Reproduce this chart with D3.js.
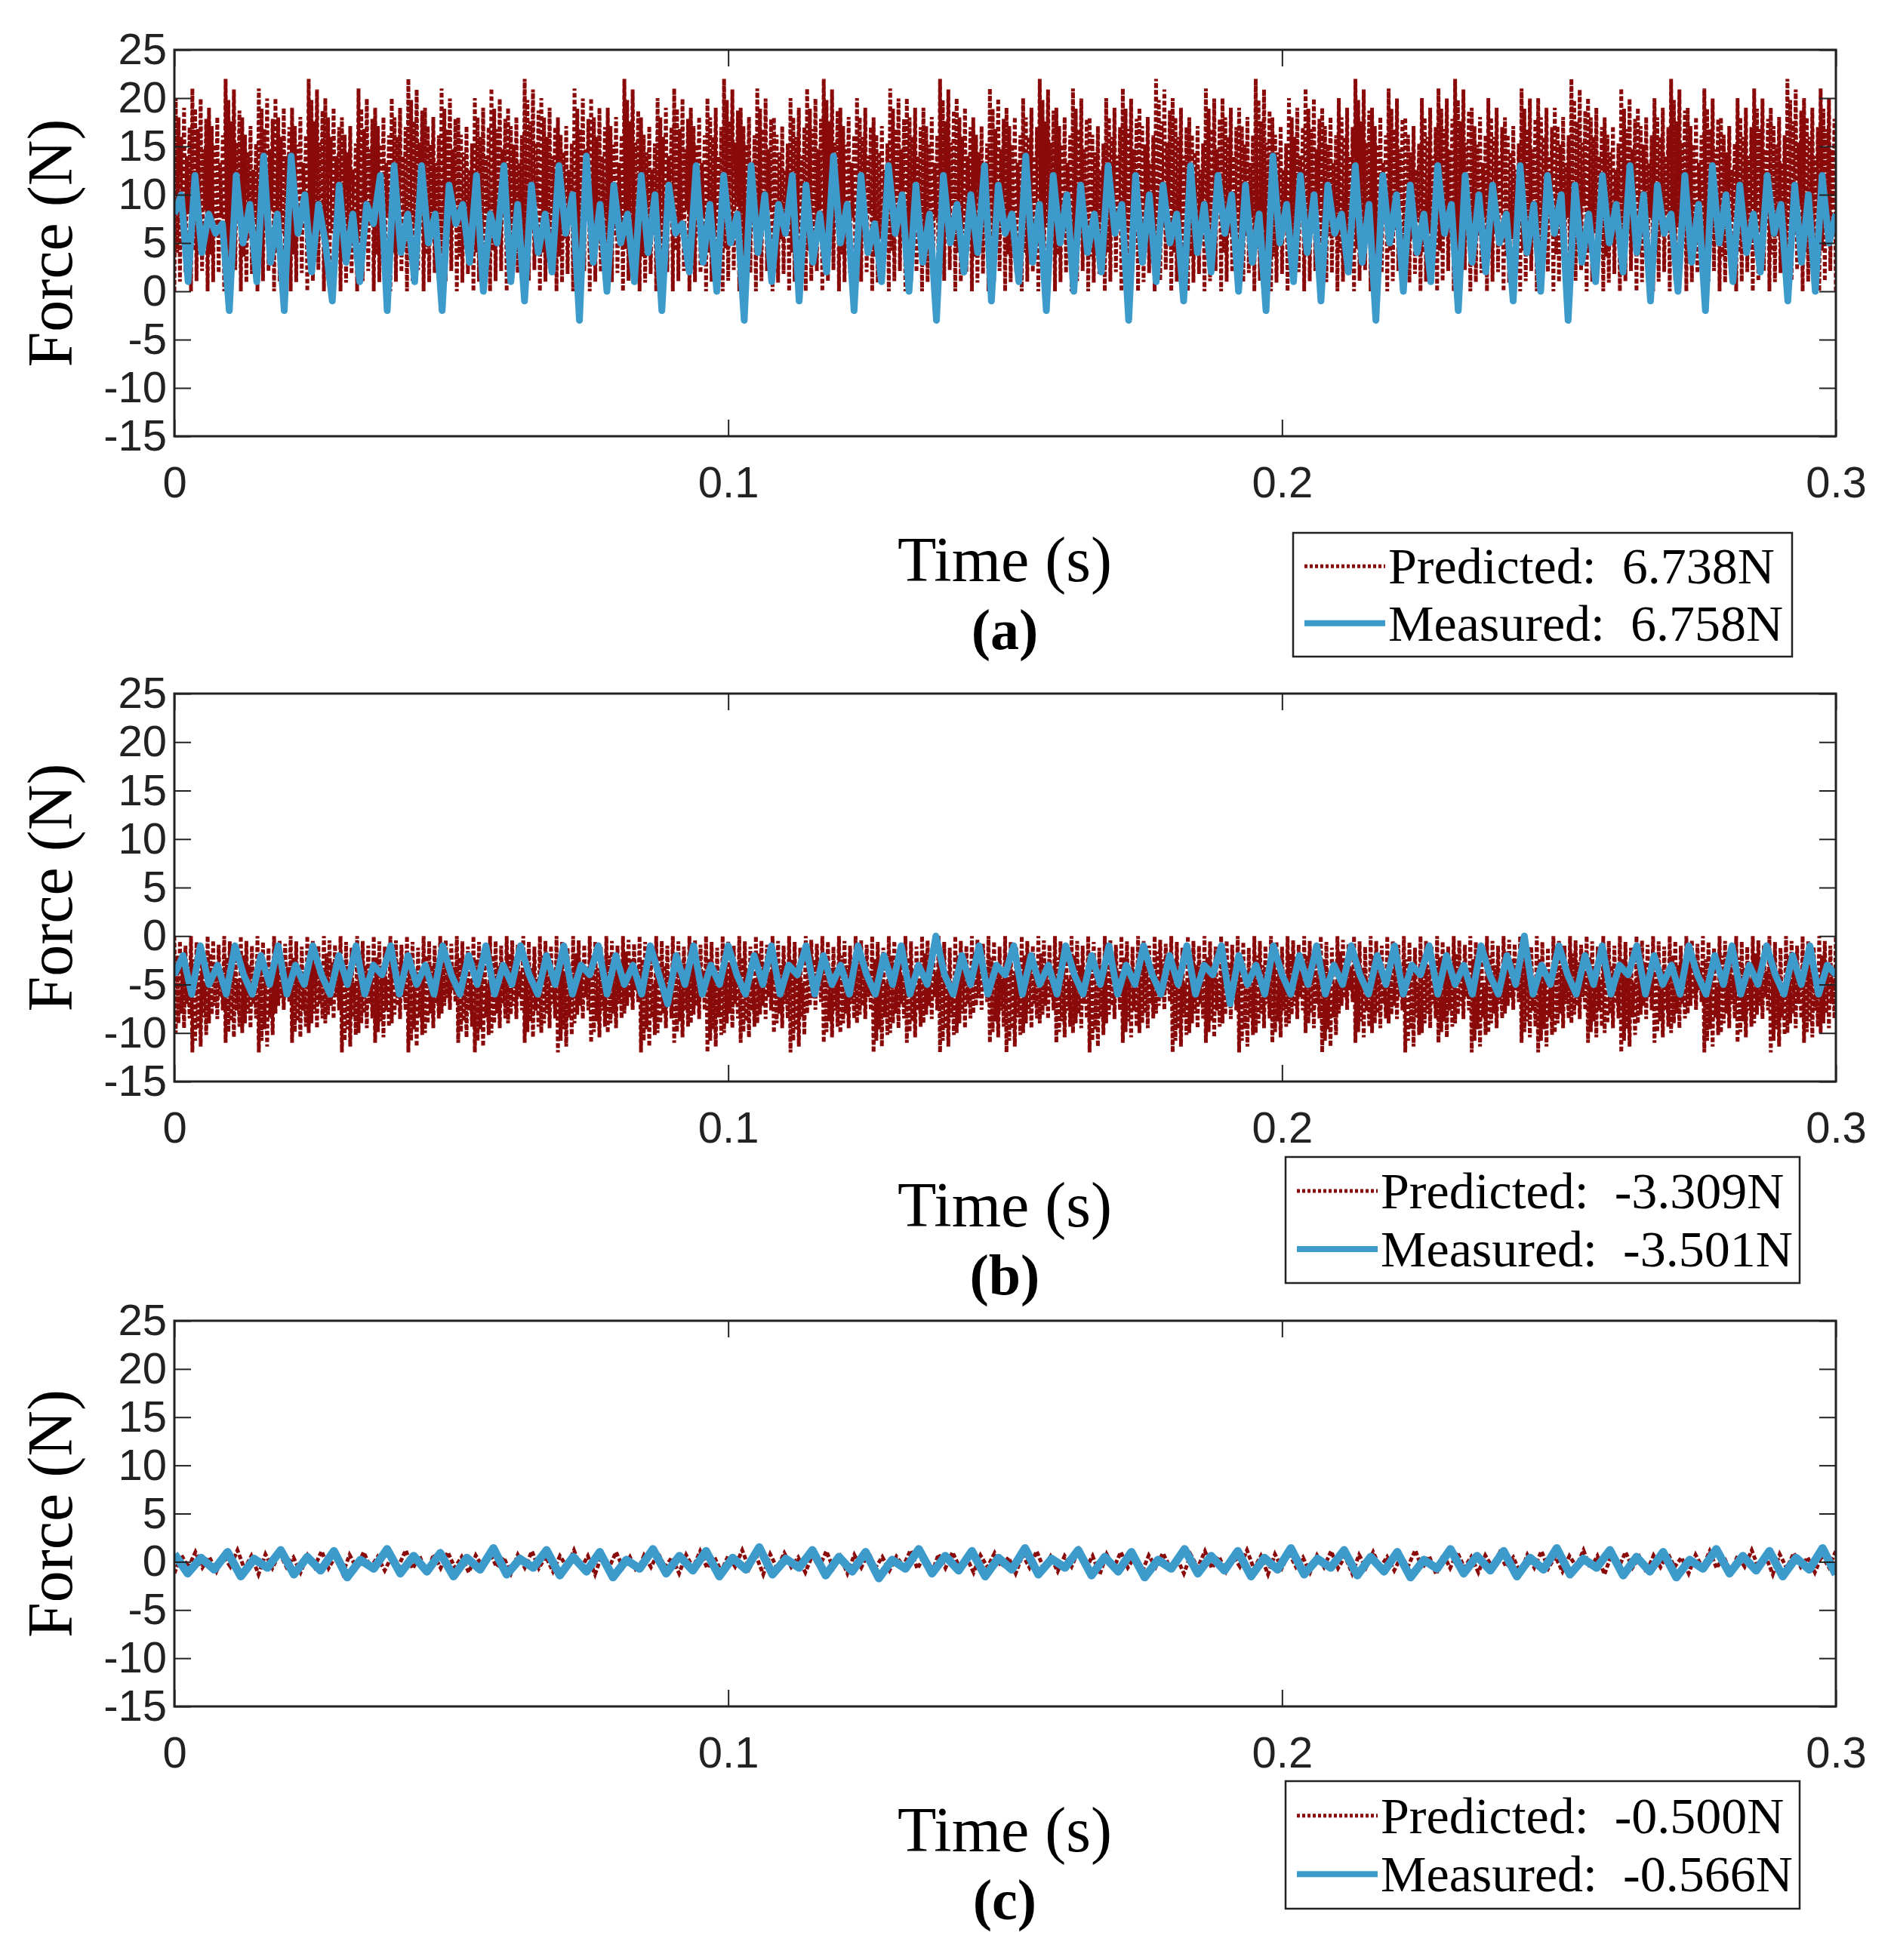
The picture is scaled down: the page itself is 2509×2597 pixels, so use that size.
<!DOCTYPE html>
<html><head><meta charset="utf-8">
<script src="https://cdn.jsdelivr.net/npm/d3@7"></script>
<style>body{margin:0;background:#fff}</style></head>
<body><svg id="c" width="2509" height="2597"></svg>
<script>
const xTicks=[0,0.1,0.2,0.3];
const yTicks=[-15,-10,-5,0,5,10,15,20,25];
const labelsA=["Predicted:  6.738N","Measured:  6.758N"];
const labelsB=["Predicted:  -3.309N","Measured:  -3.501N"];
const labelsC=["Predicted:  -0.500N","Measured:  -0.566N"];
const predPeaksA=[20,21,19,22,18,21,20,19,22,20,18,21,19,20,22,19,21,18,20,21,19,22,20,18,21,20,19,22,18,20,21,19,20,22,19,21,18,20,21,22,19,20,18,21,20,19,22,20,18,21,19,20,22,19,21,18,20,21,19,22,20,18,21,20,19,22,18,20,21,19,20,22,19,21,18,20,21,22,19,20,18,21,20,19,22,20,18,21,19,20,22,19,21,18,20,21,19,22,20,21];
const measA=[8,10,1,12,4,8,6,7,-2,12,5,9,1,14,3,8,-2,14,6,10,2,9,5,-1,11,3,8,1,9,7,12,-2,13,4,8,1,13,5,8,-2,11,7,9,3,12,0,8,5,13,1,9,-1,11,4,8,2,13,6,10,-3,14,3,9,0,11,5,8,1,12,4,10,-2,11,6,7,2,13,3,9,0,12,5,8,-3,13,4,10,1,9,6,12,-1,11,3,8,2,14,5,9,-2,12,4,7,1,13,6,10,0,11,3,8,-3,12,5,9,2,10,4,13,-1,11,6,8,1,14,3,9,-2,12,5,10,0,11,4,8,2,13,6,9,-3,12,3,10,1,11,5,8,-1,13,4,9,2,12,6,10,0,11,3,8,-2,14,5,9,1,12,4,10,-1,11,6,8,2,13,3,9,-3,12,5,10,0,11,4,8,1,13,6,9,-2,12,3,10,2,11,5,8,-1,13,4,9,0,12,6,10,-3,11,3,8,1,12,5,9,2,13,4,10,-1,11,6,8,0,12,3,9,-2,13,5,10,1,11,4,8,2,12,6,9,-1,11,3,10,0,12,5,8];
const predPeaksB=[-10,-12,-9,-11,-10,-12,-8,-11,-10,-9,-12,-10,-11,-9,-12,-10,-8,-11,-12,-10,-9,-11,-10,-12,-9,-11,-10,-8,-12,-10,-11,-9,-12,-10,-11,-9,-10,-12,-8,-11,-10,-9,-12,-10,-11,-9,-12,-10,-8,-11,-12,-10,-9,-11,-10,-12,-9,-11,-10,-8,-12,-10,-11,-9,-12,-10,-11,-9,-10,-12,-8,-11,-10,-9,-12,-10,-11,-9,-12,-10,-8,-11,-12,-10,-9,-11,-10,-12,-9,-11,-10,-8,-12,-10,-11,-9,-12,-10,-11,-10];
const measB=[-4,-2,-6,-1,-5,-3,-6,-1,-4,-6,-2,-5,-1,-6,-3,-5,-1,-4,-6,-2,-5,-1,-6,-3,-4,-1,-6,-2,-5,-3,-6,-1,-4,-6,-2,-5,-1,-6,-3,-5,-1,-4,-6,-2,-5,-1,-6,-3,-4,-1,-6,-2,-5,-3,-6,-1,-4,-7,-2,-5,-1,-6,-3,-5,-1,-4,-6,-2,-5,-1,-6,-3,-4,-1,-6,-2,-5,-3,-6,-1,-4,-6,-2,-5,-1,-6,-3,-5,0,-4,-6,-2,-5,-1,-6,-3,-4,-1,-6,-2,-5,-3,-6,-1,-4,-6,-2,-5,-1,-6,-3,-5,-1,-4,-6,-2,-5,-1,-6,-3,-4,-1,-7,-2,-5,-3,-6,-1,-4,-6,-2,-5,-1,-6,-3,-5,-1,-4,-6,-2,-5,-1,-6,-3,-4,-1,-6,-2,-5,-3,-6,-1,-4,-6,-2,-5,0,-6,-3,-5,-1,-4,-6,-2,-5,-1,-6,-3,-4,-1,-6,-2,-5,-3,-6,-1,-4,-6,-2,-5,-1,-6,-3,-5,-1,-4,-6,-2,-5,-1,-6,-3,-4];
const predPeaksC=[-1.2,1.0,-1.0,1.2,-1.3,0.9,-1.1,1.1,-1.2,1.0,-0.9,1.2,-1.3,1.0,-1.1,0.9,-1.2,1.1,-1.0,1.2,-1.3,1.0,-1.1,0.9,-1.2,1.1,-1.0,1.2,-1.3,0.9,-1.1,1.1,-1.2,1.0,-0.9,1.2,-1.3,1.0,-1.1,0.9,-1.2,1.1,-1.0,1.2,-1.3,1.0,-1.1,0.9,-1.2,1.1,-1.0,1.2,-1.3,0.9,-1.1,1.1,-1.2,1.0,-0.9,1.2,-1.3,1.0,-1.1,0.9,-1.2,1.1,-1.0,1.2,-1.3,1.0,-1.1,0.9,-1.2,1.1,-1.0,1.2,-1.3,0.9,-1.1,1.1];
const measC=[0.8,-1.2,0.4,-0.8,1.0,-1.5,0.3,-0.6,1.2,-1.3,0.5,-0.9,1.1,-1.6,0.2,-0.7,1.3,-1.2,0.6,-1.0,0.9,-1.5,0.4,-0.8,1.4,-1.3,0.3,-0.6,1.2,-1.4,0.5,-1.0,1.0,-1.6,0.2,-0.7,1.3,-1.2,0.6,-0.9,1.1,-1.5,0.4,-0.8,1.5,-1.3,0.3,-0.6,1.2,-1.4,0.5,-1.0,1.0,-1.7,0.2,-0.7,1.3,-1.2,0.6,-0.9,1.1,-1.5,0.4,-0.8,1.4,-1.3,0.3,-0.6,1.2,-1.4,0.5,-1.0,1.0,-1.6,0.2,-0.7,1.3,-1.2,0.6,-0.9,1.1,-1.5,0.4,-0.8,1.4,-1.3,0.3,-0.6,1.2,-1.4,0.5,-1.0,1.0,-1.6,0.2,-0.7,1.3,-1.2,0.6,-0.9,1.1,-1.5,0.4,-0.8,1.4,-1.3,0.3,-0.6,1.2,-1.4,0.5,-1.0,1.0,-1.6,0.2,-0.7,1.3,-1.2,0.6,-0.9,1.1,-1.5,0.4,-0.8,1.4,-1.3];

function zig(peaks, base){
  const pts=[]; const n=peaks.length;
  const shape=[0,1,0.2,0.9,0.05,0.8,0.3,0.95,0.1,0.7,0.4,0.85];
  peaks.forEach((p,i)=>{shape.forEach((s,j)=>{pts.push([ (i+j/shape.length)/n*0.3, base+(p-base)*s ]);});});
  pts.push([0.3,base]);
  return pts;
}
function zigC(peaks){
  const n=peaks.length; const pts=[];
  peaks.forEach((p,i)=>{pts.push([i/(n-1)*0.3,p]);pts.push([(i+0.33)/(n-1)*0.3,-p*0.6]);pts.push([(i+0.66)/(n-1)*0.3,p*0.5]);});
  return pts.filter(d=>d[0]<=0.3);
}
function even(arr){return arr.map((v,i)=>[i/(arr.length-1)*0.3,v]);}

const svg=d3.select("#c");
const RED="#8a0a0a", BLUE="#3d9bcc";
const panels=[
 {top:66,bot:578,pred:zig(predPeaksA,0),meas:even(measA),labels:labelsA,tag:"(a)",lg:[1713,706,2374,870],mw:9},
 {top:919,bot:1433,pred:zig(predPeaksB,0),meas:even(measB),labels:labelsB,tag:"(b)",lg:[1703,1533,2384,1700],mw:9},
 {top:1750,bot:2261,pred:zigC(predPeaksC),meas:even(measC),labels:labelsC,tag:"(c)",lg:[1703,2360,2384,2529],mw:11}
];
const L=231,R=2432;
const fmt=d=>String(d);
panels.forEach(p=>{
  const x=d3.scaleLinear().domain([0,0.3]).range([L,R]);
  const y=d3.scaleLinear().domain([-15,25]).range([p.bot,p.top]);
  const g=svg.append("g");
  const clipId="cl"+p.tag[1];
  svg.append("clipPath").attr("id",clipId).append("rect").attr("x",L).attr("y",p.top).attr("width",R-L).attr("height",p.bot-p.top);
  const line=d3.line().x(d=>x(d[0])).y(d=>y(d[1]));
  g.append("path").attr("clip-path",`url(#${clipId})`).attr("d",line(p.pred)).attr("fill","none").attr("stroke",RED).attr("stroke-width",5).attr("stroke-dasharray","6,3");
  g.append("path").attr("clip-path",`url(#${clipId})`).attr("d",line(p.meas)).attr("fill","none").attr("stroke",BLUE).attr("stroke-width",p.mw).attr("stroke-linejoin","round");
  g.append("g").attr("transform",`translate(0,${p.bot})`).call(d3.axisBottom(x).tickValues(xTicks).tickSizeInner(-22).tickSizeOuter(0).tickPadding(40).tickFormat(fmt));
  g.append("g").attr("transform",`translate(0,${p.top})`).call(d3.axisTop(x).tickValues(xTicks).tickSizeInner(-22).tickSizeOuter(0).tickFormat(""));
  g.append("g").attr("transform",`translate(${L},0)`).call(d3.axisLeft(y).tickValues(yTicks).tickSizeInner(-22).tickSizeOuter(0).tickPadding(10).tickFormat(fmt));
  g.append("g").attr("transform",`translate(${R},0)`).call(d3.axisRight(y).tickValues(yTicks).tickSizeInner(-22).tickSizeOuter(0).tickFormat(""));
  g.selectAll(".domain").remove();
  g.selectAll(".tick line").attr("stroke","#222").attr("stroke-width",2);
  g.selectAll(".tick text").attr("font-family","Liberation Sans, Arial, sans-serif").attr("font-size",58).attr("fill","#222");
  g.append("rect").attr("x",L).attr("y",p.top).attr("width",R-L).attr("height",p.bot-p.top).attr("fill","none").attr("stroke","#222").attr("stroke-width",3);
  g.append("text").attr("transform",`translate(66,${(p.top+p.bot)/2}) rotate(-90)`).attr("text-anchor","middle").attr("dominant-baseline","central")
   .attr("font-family","Liberation Serif, Times New Roman, serif").attr("font-size",84).text("Force (N)");
  g.append("text").attr("x",1331).attr("y",p.bot+192).attr("text-anchor","middle").attr("font-family","Liberation Serif, serif").attr("font-size",84).text("Time (s)");
  g.append("text").attr("x",1331).attr("y",p.bot+282).attr("text-anchor","middle").attr("font-family","Liberation Serif, serif").attr("font-weight","bold").attr("font-size",76).text(p.tag);
  const [x0,y0,x1,y1]=p.lg;
  g.append("rect").attr("x",x0).attr("y",y0).attr("width",x1-x0).attr("height",y1-y0).attr("fill","#fff").attr("stroke","#222").attr("stroke-width",2.5);
  const rows=[y0+(y1-y0)*0.27,y0+(y1-y0)*0.73];
  g.append("line").attr("x1",x0+15).attr("x2",x0+122).attr("y1",rows[0]).attr("y2",rows[0]).attr("stroke",RED).attr("stroke-width",5).attr("stroke-dasharray","4,3");
  g.append("line").attr("x1",x0+15).attr("x2",x0+122).attr("y1",rows[1]).attr("y2",rows[1]).attr("stroke",BLUE).attr("stroke-width",8);
  p.labels.forEach((t,i)=>g.append("text").attr("x",x0+126).attr("y",rows[i]).attr("dominant-baseline","central")
    .attr("font-family","Liberation Serif, serif").attr("font-size",68).attr("xml:space","preserve").text(t));
});
</script></body></html>
